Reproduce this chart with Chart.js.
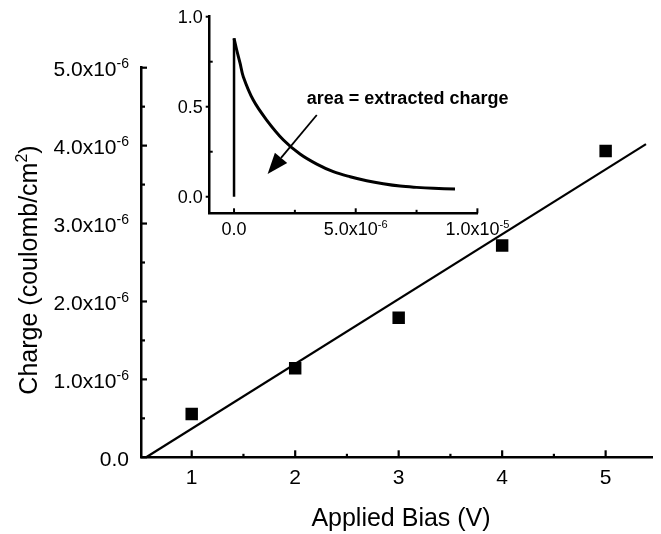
<!DOCTYPE html>
<html>
<head>
<meta charset="utf-8">
<script src="https://cdn.jsdelivr.net/npm/chart.js@4.4.1/dist/chart.umd.min.js"></script>
<style>
  body { margin: 0; background: #fff; }
  #wrap { position: relative; width: 661px; height: 534px; }
  #insetChart { position: absolute; left: 150px; top: 0; }
</style>
</head>
<body>
<div id="wrap">
  <canvas id="mainChart" width="661" height="534"></canvas>
  <canvas id="insetChart" width="400" height="245"></canvas>
</div>
<script>
// extracted charge vs applied bias
var biasV = [1, 2, 3, 4, 5];
var chargeC = [0.556e-6, 1.142e-6, 1.792e-6, 2.719e-6, 3.932e-6];
// straight-line fit, end points
var fitV = [0.56, 5.39];
var fitC = [0, 4.02e-6];

var biasTicks = [1, 2, 3, 4, 5];
var biasMinor = [1.5, 2.5, 3.5, 4.5];
var chargeTicks = [0, 1e-6, 2e-6, 3e-6, 4e-6, 5e-6];
var chargeMinor = [0.5e-6, 1.5e-6, 2.5e-6, 3.5e-6, 4.5e-6];
var chargeLabels = [['0.0', ''], ['1.0x10', '-6'], ['2.0x10', '-6'], ['3.0x10', '-6'], ['4.0x10', '-6'], ['5.0x10', '-6']];

// inset: current transient (normalised)
var stepT = [0, 0];
var stepI = [0, 0.88];
var transT = [0, 0.11e-6, 0.25e-6, 0.38e-6, 0.79e-6, 1.34e-6, 2.03e-6, 2.71e-6, 3.40e-6, 4.08e-6, 4.77e-6, 5.45e-6, 6.13e-6, 6.82e-6, 7.5e-6, 8.19e-6, 9.08e-6];
var transI = [0.88, 0.815, 0.741, 0.667, 0.537, 0.426, 0.315, 0.237, 0.181, 0.139, 0.111, 0.089, 0.072, 0.059, 0.052, 0.047, 0.043];

var timeTicks = [0, 5e-6, 1e-5];
var timeMinor = [2.5e-6, 7.5e-6];
var timeLabels = [['0.0', ''], ['5.0x10', '-6'], ['1.0x10', '-5']];
var currTicks = [0, 0.5, 1.0];
var currMinor = [0.25, 0.75];
var currLabels = ['0.0', '0.5', '1.0'];

var arrowTail = { x: 3.40e-6, y: 0.454 };
var arrowTip = { x: 1.38e-6, y: 0.126 };
var areaNote = { x: 2.99e-6, y: 0.515, text: 'area = extracted charge' };

var FONT = '"Liberation Sans", Arial, sans-serif';

function toPoints(xs, ys) {
    return xs.map(function (v, i) { return { x: v, y: ys[i] }; });
}

function seg(ctx, x1, y1, x2, y2) {
    ctx.beginPath();
    ctx.moveTo(x1, y1);
    ctx.lineTo(x2, y2);
    ctx.stroke();
}

// text made of runs (normal + superscript), y is the baseline
function drawRuns(ctx, runs, x, y, align) {
    var total = 0;
    runs.forEach(function (r) {
        ctx.font = (r.bold ? 'bold ' : '') + r.size + 'px ' + FONT;
        r.w = ctx.measureText(r.text).width;
        total += r.w;
    });
    var cx = align === 'right' ? x - total : align === 'center' ? x - total / 2 : x;
    ctx.textAlign = 'left';
    ctx.textBaseline = 'alphabetic';
    runs.forEach(function (r) {
        ctx.font = (r.bold ? 'bold ' : '') + r.size + 'px ' + FONT;
        ctx.fillText(r.text, cx, y - (r.raise || 0));
        cx += r.w;
    });
}

function expLabel(pair, size, supSize, raise) {
    var runs = [{ text: pair[0], size: size }];
    if (pair[1]) runs.push({ text: pair[1], size: supSize, raise: raise });
    return runs;
}

var mainDecor = {
    id: 'mainDecor',
    afterDraw: function (chart) {
        var ctx = chart.ctx, xs = chart.scales.x, ys = chart.scales.y, a = chart.chartArea;
        ctx.save();
        ctx.strokeStyle = '#000';
        ctx.fillStyle = '#000';
        ctx.lineWidth = 2.2;
        // inward ticks
        biasTicks.forEach(function (v) { var p = xs.getPixelForValue(v); seg(ctx, p, a.bottom, p, a.bottom - 7); });
        biasMinor.forEach(function (v) { var p = xs.getPixelForValue(v); seg(ctx, p, a.bottom, p, a.bottom - 3.5); });
        chargeTicks.forEach(function (v) { var p = ys.getPixelForValue(v); seg(ctx, a.left, p, a.left + 6, p); });
        chargeMinor.forEach(function (v) { var p = ys.getPixelForValue(v); seg(ctx, a.left, p, a.left + 4, p); });

        biasTicks.forEach(function (v) {
            drawRuns(ctx, [{ text: String(v), size: 21 }], xs.getPixelForValue(v), 483.5, 'center');
        });
        chargeTicks.forEach(function (v, i) {
            drawRuns(ctx, expLabel(chargeLabels[i], 21, 14, 8), 129, ys.getPixelForValue(v) + 8.5, 'right');
        });

        drawRuns(ctx, [{ text: 'Applied Bias (V)', size: 25 }], 401, 525.5, 'center');
        ctx.translate(37, 270);
        ctx.rotate(-Math.PI / 2);
        drawRuns(ctx, [{ text: 'Charge (coulomb/cm', size: 25 }, { text: '2', size: 16, raise: 10 }, { text: ')', size: 25 }], 0, 0, 'center');
        ctx.restore();
    }
};

var insetDecor = {
    id: 'insetDecor',
    afterDraw: function (chart) {
        var ctx = chart.ctx, xs = chart.scales.x, ys = chart.scales.y, a = chart.chartArea;
        ctx.save();
        ctx.strokeStyle = '#000';
        ctx.fillStyle = '#000';
        ctx.lineWidth = 2;
        timeTicks.forEach(function (v) { var p = xs.getPixelForValue(v); seg(ctx, p, a.bottom, p, a.bottom - 5); });
        timeMinor.forEach(function (v) { var p = xs.getPixelForValue(v); seg(ctx, p, a.bottom, p, a.bottom - 3.5); });
        currTicks.forEach(function (v) { var p = ys.getPixelForValue(v); seg(ctx, a.left - 4, p, a.left, p); });
        currMinor.forEach(function (v) { var p = ys.getPixelForValue(v); seg(ctx, a.left, p, a.left + 3, p); });

        timeTicks.forEach(function (v, i) {
            drawRuns(ctx, expLabel(timeLabels[i], 18, 11, 7), xs.getPixelForValue(v), 235, 'center');
        });
        currTicks.forEach(function (v, i) {
            drawRuns(ctx, [{ text: currLabels[i], size: 18 }], a.left - 7, ys.getPixelForValue(v) + 6.5, 'right');
        });

        // arrow pointing at the area under the transient
        var x1 = xs.getPixelForValue(arrowTail.x), y1 = ys.getPixelForValue(arrowTail.y);
        var x2 = xs.getPixelForValue(arrowTip.x), y2 = ys.getPixelForValue(arrowTip.y);
        var ang = Math.atan2(y2 - y1, x2 - x1);
        var headLen = 21, headHalf = 8;
        var bx = x2 - headLen * Math.cos(ang), by = y2 - headLen * Math.sin(ang);
        ctx.lineWidth = 1.8;
        seg(ctx, x1, y1, bx, by);
        ctx.beginPath();
        ctx.moveTo(x2, y2);
        ctx.lineTo(bx + headHalf * Math.sin(ang), by - headHalf * Math.cos(ang));
        ctx.lineTo(bx - headHalf * Math.sin(ang), by + headHalf * Math.cos(ang));
        ctx.closePath();
        ctx.fill();

        drawRuns(ctx, [{ text: areaNote.text, size: 18, bold: true }],
            xs.getPixelForValue(areaNote.x), ys.getPixelForValue(areaNote.y), 'left');
        ctx.restore();
    }
};

var plainAxis = {
    type: 'linear',
    grid: { display: false },
    border: { display: true, color: '#000', width: 2.5 },
    ticks: { display: false }
};

new Chart(document.getElementById('mainChart'), {
    type: 'scatter',
    data: {
        datasets: [
            {
                data: toPoints(biasV, chargeC),
                pointStyle: 'rect',
                pointRadius: 8.8,
                pointBorderWidth: 0,
                backgroundColor: '#000',
                borderColor: '#000'
            },
            {
                data: toPoints(fitV, fitC),
                showLine: true,
                borderColor: '#000',
                borderWidth: 2.2,
                pointRadius: 0
            }
        ]
    },
    options: {
        responsive: false,
        animation: false,
        layout: { padding: { top: 67.7, right: 0, bottom: 0, left: 0 } },
        plugins: { legend: { display: false }, tooltip: { enabled: false } },
        scales: {
            x: Object.assign({}, plainAxis, {
                min: 0.51, max: 5.45,
                afterFit: function (s) { s.height = 534 - 457.3; }
            }),
            y: Object.assign({}, plainAxis, {
                min: 0, max: 5e-6,
                afterFit: function (s) { s.width = 141; }
            })
        }
    },
    plugins: [mainDecor]
});

new Chart(document.getElementById('insetChart'), {
    type: 'scatter',
    data: {
        datasets: [
            {
                data: toPoints(stepT, stepI),
                showLine: true,
                borderColor: '#000',
                borderWidth: 2.5,
                pointRadius: 0
            },
            {
                data: toPoints(transT, transI),
                showLine: true,
                tension: 0.35,
                borderColor: '#000',
                borderWidth: 3,
                pointRadius: 0
            }
        ]
    },
    options: {
        responsive: false,
        animation: false,
        layout: { padding: { top: 16.7, right: 72.6, bottom: 0, left: 0 } },
        plugins: { legend: { display: false }, tooltip: { enabled: false } },
        scales: {
            x: Object.assign({}, plainAxis, {
                min: -1e-6, max: 1e-5,
                afterFit: function (s) { s.height = 245 - 213.3; }
            }),
            y: Object.assign({}, plainAxis, {
                min: -0.092, max: 1.0,
                afterFit: function (s) { s.width = 59.7; }
            })
        }
    },
    plugins: [insetDecor]
});
</script>
</body>
</html>
